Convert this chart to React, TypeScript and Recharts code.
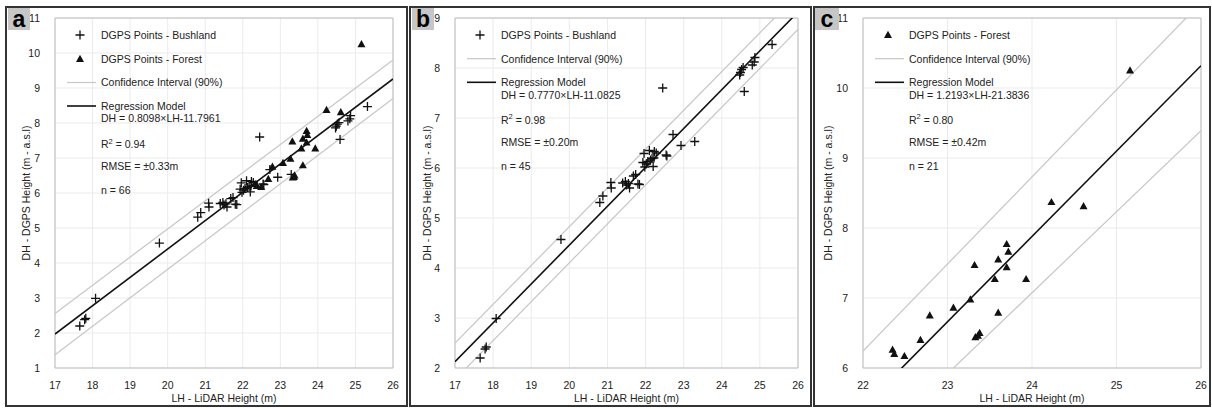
import React from 'react';
import {
  ScatterChart,
  Scatter,
  XAxis,
  YAxis,
  CartesianGrid,
  ReferenceLine,
  ReferenceArea,
  Customized,
} from 'recharts';

// ---------- DATA ----------
const bushlandPoints: number[][] = [
  [17.66, 2.2], [17.79, 2.38], [17.82, 2.42], [18.08, 2.99], [19.78, 4.57],
  [20.8, 5.31], [20.88, 5.44], [21.09, 5.71], [21.1, 5.6], [21.4, 5.7],
  [21.47, 5.73], [21.5, 5.66], [21.55, 5.69], [21.58, 5.6], [21.68, 5.84],
  [21.74, 5.87], [21.8, 5.68], [21.84, 5.67], [21.93, 6.11], [21.96, 6.29],
  [21.98, 6.02], [22.02, 6.08], [22.06, 6.13], [22.1, 6.35], [22.13, 6.16],
  [22.17, 6.19], [22.2, 6.03], [22.23, 6.33], [22.28, 6.3], [22.22, 6.2],
  [22.45, 7.6], [22.54, 6.26], [22.56, 6.24], [22.72, 6.67], [22.93, 6.45],
  [23.29, 6.53], [24.47, 7.86], [24.49, 7.91], [24.52, 7.97], [24.56, 8.01],
  [24.59, 7.53], [24.8, 8.06], [24.85, 8.12], [24.87, 8.21], [25.32, 8.47],
];

const forestPoints: number[][] = [
  [22.35, 6.26], [22.37, 6.2], [22.49, 6.17], [22.68, 6.4], [22.79, 6.75],
  [23.07, 6.86], [23.27, 6.98], [23.32, 7.47], [23.33, 6.44], [23.36, 6.46],
  [23.38, 6.5], [23.56, 7.27], [23.6, 7.55], [23.6, 6.79], [23.7, 7.77],
  [23.7, 7.44], [23.72, 7.66], [23.93, 7.27], [24.23, 8.37], [24.61, 8.31],
  [25.16, 10.25],
];

// regression models (printed in the chart)
const modelA = { slope: 0.8098, intercept: -11.7961 };
const modelB = { slope: 0.777, intercept: -11.0825 };
const modelC = { slope: 1.2193, intercept: -21.3836 };

// confidence interval lines (endpoints)
const ciUpperA: number[][] = [[17, 2.56], [26, 9.8]];
const ciLowerA: number[][] = [[17, 1.38], [26, 8.7]];
const ciUpperB: number[][] = [[17, 2.5], [26, 9.48]];
const ciLowerB: number[][] = [[17, 1.77], [26, 8.77]];
const ciUpperC: number[][] = [[22, 6.24], [26, 11.22]];
const ciLowerC: number[][] = [[22, 4.76], [26, 9.39]];

const xTicksAB = [17, 18, 19, 20, 21, 22, 23, 24, 25, 26];
const yTicksA = [1, 2, 3, 4, 5, 6, 7, 8, 9, 10, 11];
const yTicksB = [2, 3, 4, 5, 6, 7, 8, 9];
const xTicksC = [22, 23, 24, 25, 26];
const yTicksC = [6, 7, 8, 9, 10, 11];

const xLabel = 'LH - LiDAR Height (m)';
const yLabel = 'DH - DGPS Height (m - a.s.l)';

// ---------- helpers ----------
const toPts = (a: number[][]) => a.map(([x, y]) => ({ x, y }));
const FONT = '"Liberation Sans", Arial, Helvetica, sans-serif';
const TXT = '#222';

const PlusShape = (p: any) => {
  const { cx, cy } = p;
  if (cx == null || cy == null) return null;
  const r = 4.5;
  return (
    <path
      d={`M${cx - r},${cy}H${cx + r}M${cx},${cy - r}V${cy + r}`}
      stroke="#111"
      strokeWidth={1.3}
      fill="none"
    />
  );
};

const TriShape = (p: any) => {
  const { cx, cy } = p;
  if (cx == null || cy == null) return null;
  return <path d={`M${cx},${cy - 4.2}L${cx + 4},${cy + 3}L${cx - 4},${cy + 3}Z`} fill="#111" />;
};

type Row =
  | { kind: 'plus' | 'tri' | 'ci' | 'reg'; y: number; text: string }
  | { kind: 'text'; y: number; text: string }
  | { kind: 'r2'; y: number; text: string };

interface PanelProps {
  left: number;
  width: number;
  marginLeft: number;
  marginRight: number;
  xDomain: [number, number];
  yDomain: [number, number];
  xTicks: number[];
  yTicks: number[];
  bush?: number[][];
  forest?: number[][];
  model: { slope: number; intercept: number };
  ciUp: number[][];
  ciLo: number[][];
  rows: Row[];
  letter: string;
  box: { x: number; w: number };
  yLabelOffset: number;
}

const H = 408;
const TOP = 18;
const XAXIS_H = 30;
const BOTTOM = 10;
const YAXIS_W = 30;

function Panel(props: PanelProps) {
  const {
    left, width, marginLeft, marginRight, xDomain, yDomain, xTicks, yTicks,
    bush, forest, model, ciUp, ciLo, rows, letter, box, yLabelOffset,
  } = props;
  const plotL = marginLeft + YAXIS_W;
  const plotR = width - marginRight;
  const plotT = TOP;
  const plotB = H - BOTTOM - XAXIS_H;
  const plotCx = (plotL + plotR) / 2;
  const plotCy = (plotT + plotB) / 2;
  const tx = plotL + 46;
  const mx = plotL + 25;
  const l1 = plotL + 12;
  const l2 = plotL + 41;
  const regSeg = [
    { x: xDomain[0], y: model.slope * xDomain[0] + model.intercept },
    { x: xDomain[1], y: model.slope * xDomain[1] + model.intercept },
  ];

  const Overlay = () => (
    <g fontFamily={FONT} fontSize={10.5} fill={TXT}>
      {rows.map((r, i) => {
        const base = r.y + 3.8;
        const parts: React.ReactNode[] = [];
        if (r.kind === 'plus') {
          parts.push(<PlusShape key="m" cx={mx} cy={r.y} />);
        } else if (r.kind === 'tri') {
          parts.push(<TriShape key="m" cx={mx} cy={r.y} />);
        } else if (r.kind === 'ci') {
          parts.push(<line key="m" x1={l1} x2={l2} y1={r.y} y2={r.y} stroke="#c6c6c6" strokeWidth={1.2} />);
        } else if (r.kind === 'reg') {
          parts.push(<line key="m" x1={l1} x2={l2} y1={r.y} y2={r.y} stroke="#111" strokeWidth={1.6} />);
        }
        if (r.kind === 'r2') {
          parts.push(
            <text key="t" x={tx} y={base}>
              R<tspan dy={-4.5} fontSize={7.5}>2</tspan>
              <tspan dy={4.5}>{r.text}</tspan>
            </text>
          );
        } else {
          parts.push(
            <text key="t" x={tx} y={base}>
              {r.text}
            </text>
          );
        }
        return <g key={i}>{parts}</g>;
      })}
      <text x={plotCx} y={H - 6} textAnchor="middle">
        {xLabel}
      </text>
      <text
        x={plotL + yLabelOffset}
        y={plotCy}
        textAnchor="middle"
        dominantBaseline="central"
        transform={`rotate(-90 ${plotL + yLabelOffset} ${plotCy})`}
      >
        {yLabel}
      </text>
    </g>
  );

  const tick = { fontFamily: FONT, fontSize: 10.5, fill: TXT };

  return (
    <>
      <div
        style={{
          position: 'absolute',
          left,
          top: 6,
          width,
          height: 401,
          border: '2px solid #333',
          boxSizing: 'border-box',
          background: '#fff',
        }}
      />
      <div style={{ position: 'absolute', left, top: 0 }}>
        <ScatterChart
          width={width}
          height={H}
          margin={{ top: TOP, right: marginRight, bottom: BOTTOM, left: marginLeft }}
        >
          <CartesianGrid stroke="#ebebeb" strokeWidth={1} />
          <XAxis
            type="number"
            dataKey="x"
            domain={xDomain}
            ticks={xTicks}
            interval={0}
            allowDataOverflow
            height={XAXIS_H}
            tick={tick}
            tickLine={false}
            axisLine={false}
            tickMargin={8}
          />
          <YAxis
            type="number"
            dataKey="y"
            domain={yDomain}
            ticks={yTicks}
            interval={0}
            allowDataOverflow
            width={YAXIS_W}
            tick={tick}
            tickLine={false}
            axisLine={false}
            tickMargin={9}
          />
          <ReferenceArea
            x1={xDomain[0]}
            x2={xDomain[1]}
            y1={yDomain[0]}
            y2={yDomain[1]}
            fill="none"
            stroke="#bdbdbd"
            strokeWidth={1}
            fillOpacity={0}
            ifOverflow="visible"
          />
          <ReferenceLine segment={toPts(ciUp)} stroke="#c6c6c6" strokeWidth={1.2} ifOverflow="hidden" />
          <ReferenceLine segment={toPts(ciLo)} stroke="#c6c6c6" strokeWidth={1.2} ifOverflow="hidden" />
          <ReferenceLine segment={regSeg} stroke="#111" strokeWidth={1.6} ifOverflow="hidden" />
          {bush && (
            <Scatter data={toPts(bush)} shape={PlusShape} isAnimationActive={false} />
          )}
          {forest && (
            <Scatter data={toPts(forest)} shape={TriShape} isAnimationActive={false} />
          )}
          <Customized component={Overlay} />
        </ScatterChart>
      </div>
      <div
        style={{
          position: 'absolute',
          left: box.x,
          top: 8,
          width: box.w,
          height: 22,
          background: '#c6c6c6',
          fontFamily: FONT,
          fontWeight: 900,
          fontSize: 23,
          lineHeight: '22px',
          textAlign: 'center',
          color: '#000',
        }}
      >
        {letter}
      </div>
    </>
  );
}

export default function App() {
  const rowsA: Row[] = [
    { kind: 'plus', y: 35, text: 'DGPS Points - Bushland' },
    { kind: 'tri', y: 59, text: 'DGPS Points - Forest' },
    { kind: 'ci', y: 82.5, text: 'Confidence Interval (90%)' },
    { kind: 'reg', y: 106, text: 'Regression Model' },
    { kind: 'text', y: 118.5, text: 'DH = 0.8098×LH-11.7961' },
    { kind: 'r2', y: 144.5, text: ' = 0.94' },
    { kind: 'text', y: 166, text: 'RMSE = ±0.33m' },
    { kind: 'text', y: 190, text: 'n = 66' },
  ];
  const rowsB: Row[] = [
    { kind: 'plus', y: 35, text: 'DGPS Points - Bushland' },
    { kind: 'ci', y: 58.7, text: 'Confidence Interval (90%)' },
    { kind: 'reg', y: 82.3, text: 'Regression Model' },
    { kind: 'text', y: 94.7, text: 'DH = 0.7770×LH-11.0825' },
    { kind: 'r2', y: 120, text: ' = 0.98' },
    { kind: 'text', y: 142.5, text: 'RMSE = ±0.20m' },
    { kind: 'text', y: 166, text: 'n = 45' },
  ];
  const rowsC: Row[] = [
    { kind: 'tri', y: 35, text: 'DGPS Points - Forest' },
    { kind: 'ci', y: 58.7, text: 'Confidence Interval (90%)' },
    { kind: 'reg', y: 82.3, text: 'Regression Model' },
    { kind: 'text', y: 94.7, text: 'DH = 1.2193×LH-21.3836' },
    { kind: 'r2', y: 120, text: ' = 0.80' },
    { kind: 'text', y: 142.5, text: 'RMSE = ±0.42m' },
    { kind: 'text', y: 166, text: 'n = 21' },
  ];

  return (
    <div
      style={{
        position: 'absolute',
        left: 0,
        top: 0,
        width: 1212,
        height: 408,
        background: '#fff',
        overflow: 'hidden',
      }}
    >
      <Panel
        left={5}
        width={403}
        marginLeft={20}
        marginRight={15}
        xDomain={[17, 26]}
        yDomain={[1, 11]}
        xTicks={xTicksAB}
        yTicks={yTicksA}
        bush={bushlandPoints}
        forest={forestPoints}
        model={modelA}
        ciUp={ciUpperA}
        ciLo={ciLowerA}
        rows={rowsA}
        letter="a"
        box={{ x: 8, w: 22 }}
        yLabelOffset={-29}
      />
      <Panel
        left={409}
        width={403}
        marginLeft={16}
        marginRight={14}
        xDomain={[17, 26]}
        yDomain={[2, 9]}
        xTicks={xTicksAB}
        yTicks={yTicksB}
        bush={bushlandPoints}
        model={modelB}
        ciUp={ciUpperB}
        ciLo={ciLowerB}
        rows={rowsB}
        letter="b"
        box={{ x: 412, w: 22 }}
        yLabelOffset={-28.5}
      />
      <Panel
        left={813}
        width={398}
        marginLeft={20}
        marginRight={10}
        xDomain={[22, 26]}
        yDomain={[6, 11]}
        xTicks={xTicksC}
        yTicks={yTicksC}
        forest={forestPoints}
        model={modelC}
        ciUp={ciUpperC}
        ciLo={ciLowerC}
        rows={rowsC}
        letter="c"
        box={{ x: 815, w: 24 }}
        yLabelOffset={-35}
      />
    </div>
  );
}
